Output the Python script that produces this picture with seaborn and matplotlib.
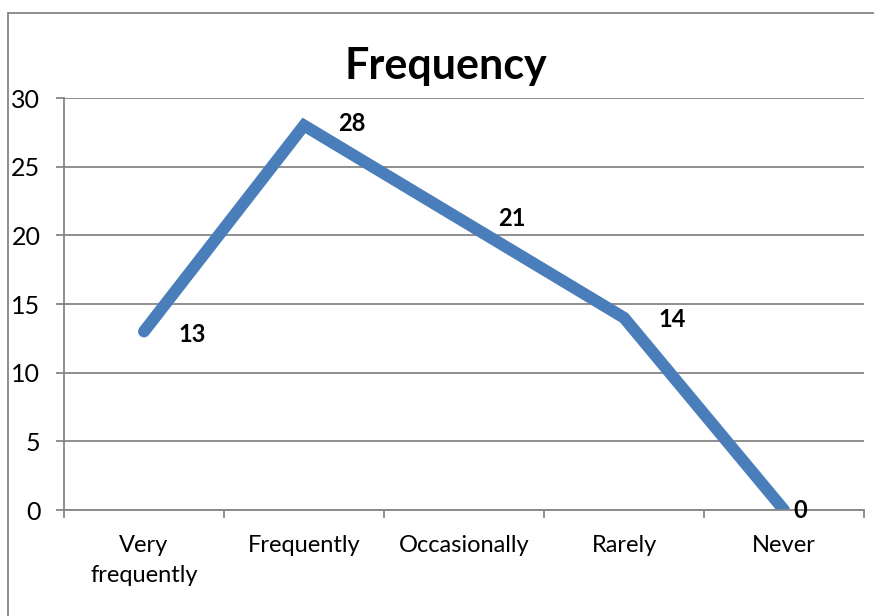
import pandas as pd
import seaborn as sns
import matplotlib.pyplot as plt
from matplotlib.lines import Line2D

# data
categories = ['Very\nfrequently', 'Frequently', 'Occasionally', 'Rarely', 'Never']
values = [13, 28, 21, 14, 0]
yticks = [0, 5, 10, 15, 20, 25, 30]

df = pd.DataFrame({'answer': categories, 'count': values})

sns.set_style('white')
plt.rcParams['font.family'] = ['Lato', 'DejaVu Sans']
plt.rcParams['text.color'] = 'black'
plt.rcParams['xtick.labelcolor'] = 'black'
plt.rcParams['ytick.labelcolor'] = 'black'

fig = plt.figure(figsize=(8.74, 6.16), dpi=100)
ax = fig.add_axes([64 / 874, 1 - 510 / 616, 800 / 874, 412 / 616])

sns.lineplot(data=df, x='answer', y='count', sort=False, ax=ax,
             color='#4A7EBB', linewidth=8.6, solid_capstyle='round',
             solid_joinstyle='miter')

ax.set_xlim(-0.5, len(categories) - 0.5)
ax.set_ylim(0, 30)
ax.set_yticks(yticks)
ax.yaxis.grid(True, color='#868686', linewidth=1.3)
ax.set_axisbelow(True)
ax.set_xlabel('')
ax.set_ylabel('')

gray = '#868686'
for s in ['top', 'right']:
    ax.spines[s].set_visible(False)
for s in ['left', 'bottom']:
    ax.spines[s].set_color(gray)
    ax.spines[s].set_linewidth(1.3)

ax.tick_params(axis='y', length=6, width=1.3, color=gray, direction='out',
               pad=11, labelsize=18, left=True)
ax.set_xticks(range(len(categories)))
ax.set_xticklabels(categories, fontsize=17, linespacing=1.55, va='top')
ax.tick_params(axis='x', which='major', length=0, pad=18)
ax.set_xticks([i - 0.5 for i in range(len(categories) + 1)], minor=True)
ax.tick_params(axis='x', which='minor', length=6, width=1.3, color=gray,
               direction='out', bottom=True)

# value labels on the right of each point
offsets = [(34, -3), (34, 2), (34, 3), (34, -2), (9, 0)]
for i, (v, off) in enumerate(zip(values, offsets)):
    ax.annotate(str(v), (i, v), xytext=off, textcoords='offset pixels',
                ha='left', va='center', fontsize=17, fontweight='bold')

fig.text(446 / 874, 1 - 66 / 616, 'Frequency', ha='center', va='center',
         fontsize=31, fontweight='bold')

# outer chart border
fig.add_artist(Line2D([8 / 874, 8 / 874], [0, 1 - 13 / 616],
                      transform=fig.transFigure, color=gray, linewidth=1.3))
fig.add_artist(Line2D([8 / 874, 1], [1 - 13 / 616, 1 - 13 / 616],
                      transform=fig.transFigure, color=gray, linewidth=1.3))

fig.savefig('out.png', dpi=100)
